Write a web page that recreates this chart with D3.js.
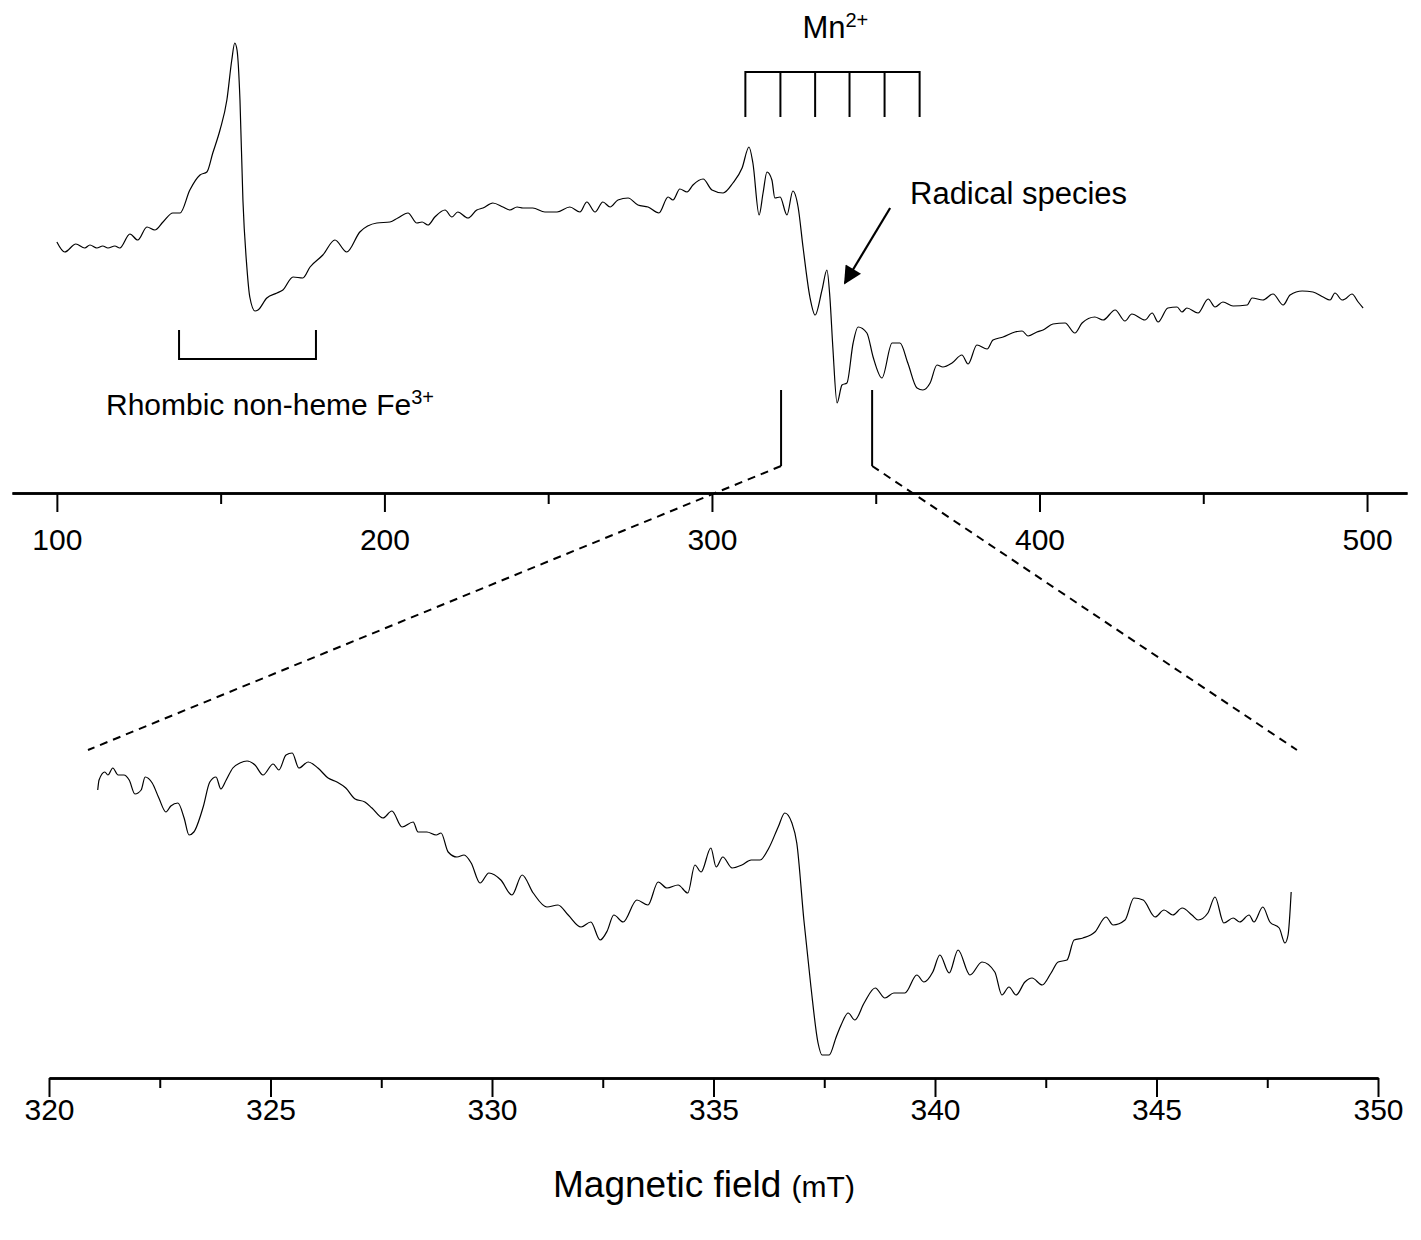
<!DOCTYPE html>
<html>
<head>
<meta charset="utf-8">
<script src="https://cdn.jsdelivr.net/npm/d3@7"></script>
<style>
    body { margin: 0; background: #fff; }
    svg { display: block; font-family: "Liberation Sans", Arial, sans-serif; }
</style>
</head>
<body>
<div id="chart"></div>
<script>
// Overview EPR spectrum (field in mT, signal in arbitrary units)
const overviewField = [100.0,102.4,105.8,108.5,110.1,112.2,114.0,115.6,117.7,119.2,
    122.3,124.7,127.5,129.9,132.4,135.4,137.6,140.6,143.7,145.8,
    147.6,149.8,151.9,153.4,154.3,155.0,155.9,156.8,158.0,158.9,
    160.5,161.4,164.1,167.2,169.0,172.1,175.1,177.3,181.2,184.9,
    188.5,192.5,197.7,201.7,204.1,207.2,209.9,211.5,213.3,215.4,
    218.5,220.6,222.4,225.5,228.2,230.1,233.1,236.2,238.3,240.5,
    242.3,245.3,249.0,252.7,256.6,259.7,261.8,264.3,266.7,268.9,
    271.3,274.4,277.4,280.5,283.8,286.6,288.1,290.2,292.4,294.2,
    297.3,300.0,303.4,306.4,309.2,311.3,312.5,314.4,315.6,316.8,
    318.3,319.2,320.8,322.9,324.7,326.3,327.8,329.9,331.5,333.6,
    335.1,336.0,336.9,338.2,339.7,341.2,343.1,344.6,347.3,349.2,
    351.9,355.0,357.4,359.8,362.6,364.4,366.6,368.7,370.5,373.3,
    376.3,378.2,380.9,384.0,385.8,388.9,392.5,394.7,396.5,399.2,
    401.1,404.1,407.8,410.8,413.0,416.9,419.4,423.1,426.1,428.2,
    432.2,434.4,436.2,439.2,442.0,443.5,445.0,448.4,451.5,453.6,
    456.0,459.1,463.4,464.9,468.2,471.3,474.4,476.5,480.2,483.5,
    486.6,488.7,490.2,492.4,493.3,495.4,497.3,498.8];
const overviewSignal = [1,-9,-1,-5,-2,-5,-3,-5,-3,-5,
    9,3,16,13,21,30,30,53,68,71,
    90,113,143,183,200,193,143,43,-24,-54,
    -68,-67,-55,-50,-47,-34,-35,-24,-12,3,
    -9,11,20,21,25,30,20,21,18,26,
    33,26,31,25,33,35,40,36,33,36,
    35,35,31,31,36,31,41,31,41,36,
    43,45,38,36,30,46,43,54,51,58,
    64,53,50,60,75,96,80,28,50,71,
    63,45,46,28,52,36,-4,-54,-72,-47,
    -27,-54,-104,-160,-142,-140,-100,-84,-90,-114,
    -135,-100,-100,-120,-145,-147,-140,-122,-124,-120,
    -112,-121,-102,-106,-97,-94,-89,-88,-93,-89,
    -87,-81,-80,-90,-80,-74,-77,-67,-78,-71,
    -77,-70,-79,-65,-64,-69,-65,-70,-56,-64,
    -59,-63,-62,-55,-57,-51,-62,-52,-48,-49,
    -54,-57,-50,-57,-56,-51,-59,-65];

// Expanded radical region
const zoomField = [321.10,321.13,321.26,321.33,321.44,321.56,321.69,321.81,321.94,322.08,
    322.17,322.33,322.48,322.64,322.75,322.91,323.05,323.16,323.27,323.48,
    323.63,323.77,323.88,324.00,324.15,324.31,324.47,324.65,324.83,325.06,
    325.19,325.35,325.49,325.64,325.85,326.07,326.30,326.50,326.70,326.91,
    327.13,327.29,327.54,327.74,327.97,328.22,328.33,328.53,328.74,328.85,
    329.01,329.21,329.37,329.53,329.73,329.93,330.20,330.45,330.68,330.93,
    331.24,331.49,331.72,332.01,332.23,332.44,332.60,332.75,332.96,333.27,
    333.52,333.75,333.95,334.20,334.42,334.58,334.72,334.94,335.06,335.21,
    335.42,335.64,335.85,336.05,336.25,336.46,336.61,336.77,336.88,337.04,
    337.20,337.36,337.45,337.61,337.77,337.88,338.04,338.19,338.40,338.65,
    338.87,339.07,339.32,339.59,339.75,339.95,340.11,340.32,340.52,340.79,
    341.06,341.35,341.51,341.67,341.83,342.03,342.19,342.42,342.62,342.78,
    342.98,343.14,343.34,343.61,343.86,344.02,344.29,344.49,344.70,344.97,
    345.17,345.37,345.58,345.80,345.94,346.16,346.32,346.52,346.73,346.88,
    347.09,347.20,347.40,347.56,347.77,347.90,347.97,348.04];
const zoomSignal = [110,120,128,125,132,125,125,120,106,110,
    123,117,102,88,94,97,82,65,68,93,
    118,123,111,120,132,137,139,135,125,136,
    130,145,147,132,138,132,122,118,112,101,
    98,92,82,89,73,78,68,68,65,67,
    48,43,45,37,17,27,20,5,25,7,
    -7,-5,-15,-27,-22,-40,-31,-15,-22,0,
    -5,18,12,15,7,35,28,52,33,43,
    32,35,40,40,52,73,87,77,57,-20,
    -87,-143,-155,-155,-137,-125,-113,-120,-103,-88,
    -98,-93,-93,-75,-82,-72,-55,-73,-50,-75,
    -62,-72,-95,-87,-95,-82,-78,-85,-73,-62,
    -60,-40,-38,-32,-17,-25,-20,2,0,-17,
    -10,-15,-8,-15,-20,-13,3,-23,-18,-22,
    -15,-22,-7,-22,-28,-43,-35,8];

const overviewTicks = [100, 200, 300, 400, 500];
const overviewMinorTicks = [150, 250, 350, 450];
const zoomTicks = [320, 325, 330, 335, 340, 345, 350];
const zoomMinorTicks = [322.5, 327.5, 332.5, 337.5, 342.5, 347.5];

// annotation positions (mT)
const mnLines = [310.2, 320.9, 331.5, 342.0, 352.7, 363.4];
const feBracket = [137.3, 179.1];
const radicalWindow = [321.1, 348.9];
const zoomWindowEnds = [320.88, 348.17];

const W = 1421, H = 1240;

const svg = d3.select("#chart")
    .append("svg")
    .attr("width", W)
    .attr("height", H);

// scales
const xTop = d3.scaleLinear().domain([86.3, 512.2]).range([12, 1407]);
const yTop = d3.scaleLinear().domain([-200, 200]).range([443, 43]);
const xBot = d3.scaleLinear().domain([320, 350]).range([49, 1378]);
const yBot = d3.scaleLinear().domain([-200, 200]).range([1100, 700]);

const topAxisY = 493;
const botAxisY = 1078;

function styleAxis(g) {
    g.select(".domain").attr("stroke", "#000").attr("stroke-width", 2.4);
    g.selectAll(".tick line").attr("stroke", "#000").attr("stroke-width", 2);
    g.selectAll(".tick text")
        .attr("fill", "#000")
        .style("font-size", "30px")
        .style("font-family", "'Liberation Sans', Arial, sans-serif");
}

// top axis
svg.append("g")
    .attr("transform", `translate(0,${topAxisY})`)
    .call(d3.axisBottom(xTop).tickValues(overviewMinorTicks).tickSize(11).tickSizeOuter(0).tickFormat(""))
    .call(styleAxis);
svg.append("g")
    .attr("transform", `translate(0,${topAxisY})`)
    .call(d3.axisBottom(xTop).tickValues(overviewTicks).tickSize(19).tickPadding(17).tickSizeOuter(0))
    .call(styleAxis);

// bottom axis
svg.append("g")
    .attr("transform", `translate(0,${botAxisY})`)
    .call(d3.axisBottom(xBot).tickValues(zoomMinorTicks).tickSize(10).tickSizeOuter(0).tickFormat(""))
    .call(styleAxis);
svg.append("g")
    .attr("transform", `translate(0,${botAxisY})`)
    .call(d3.axisBottom(xBot).tickValues(zoomTicks).tickSize(19).tickPadding(2).tickSizeOuter(0))
    .call(styleAxis);

// traces
const topData = d3.zip(overviewField, overviewSignal);
const botData = d3.zip(zoomField, zoomSignal);

svg.append("path")
    .datum(topData)
    .attr("fill", "none")
    .attr("stroke", "#000")
    .attr("stroke-width", 1.2)
    .attr("d", d3.line().x(d => xTop(d[0])).y(d => yTop(d[1])).curve(d3.curveMonotoneX));

svg.append("path")
    .datum(botData)
    .attr("fill", "none")
    .attr("stroke", "#000")
    .attr("stroke-width", 1.2)
    .attr("d", d3.line().x(d => xBot(d[0])).y(d => yBot(d[1])).curve(d3.curveMonotoneX));

// Mn2+ sextet bracket
const mnTop = 171, mnBottom = 126;
svg.append("line")
    .attr("x1", xTop(mnLines[0])).attr("x2", xTop(mnLines[mnLines.length - 1]))
    .attr("y1", yTop(mnTop)).attr("y2", yTop(mnTop))
    .attr("stroke", "#000").attr("stroke-width", 2);
svg.selectAll(".mn")
    .data(mnLines)
    .enter()
    .append("line")
    .attr("x1", d => xTop(d)).attr("x2", d => xTop(d))
    .attr("y1", yTop(mnTop) - 1).attr("y2", yTop(mnBottom))
    .attr("stroke", "#000").attr("stroke-width", 2);

const mnLabel = svg.append("text")
    .attr("x", xTop(d3.mean(mnLines)) - 30)
    .attr("y", 38)
    .style("font-size", "31px");
mnLabel.append("tspan").text("Mn");
mnLabel.append("tspan").attr("dy", -11).style("font-size", "20px").text("2+");

// Fe3+ bracket
const feTop = -87, feBottom = -116;
svg.append("path")
    .attr("d", `M${xTop(feBracket[0])},${yTop(feTop)}V${yTop(feBottom)}H${xTop(feBracket[1])}V${yTop(feTop)}`)
    .attr("fill", "none").attr("stroke", "#000").attr("stroke-width", 2);

const feLabel = svg.append("text")
    .attr("x", 106)
    .attr("y", 415)
    .style("font-size", "30px");
feLabel.append("tspan").text("Rhombic non-heme Fe");
feLabel.append("tspan").attr("dy", -11).style("font-size", "20px").text("3+");

// Radical species label and arrow
svg.append("text")
    .attr("x", 910)
    .attr("y", 204)
    .style("font-size", "31px")
    .text("Radical species");

svg.append("defs").append("marker")
    .attr("id", "arrowhead")
    .attr("viewBox", "0 0 10 10")
    .attr("refX", 9).attr("refY", 5)
    .attr("markerWidth", 22).attr("markerHeight", 18)
    .attr("markerUnits", "userSpaceOnUse")
    .attr("orient", "auto")
    .append("path")
    .attr("d", "M0,0L10,5L0,10Z")
    .attr("fill", "#000");

svg.append("line")
    .attr("x1", xTop(354.4)).attr("y1", yTop(35))
    .attr("x2", xTop(340.6)).attr("y2", yTop(-40))
    .attr("stroke", "#000").attr("stroke-width", 2.2)
    .attr("marker-end", "url(#arrowhead)");

// radical window markers and zoom guide lines
const winTop = -147, winBottom = -223, guideEnd = 150;
svg.selectAll(".win")
    .data(radicalWindow)
    .enter()
    .append("line")
    .attr("x1", d => xTop(d)).attr("x2", d => xTop(d))
    .attr("y1", yTop(winTop)).attr("y2", yTop(winBottom))
    .attr("stroke", "#000").attr("stroke-width", 2);

svg.selectAll(".guide")
    .data(d3.zip(radicalWindow, zoomWindowEnds))
    .enter()
    .append("line")
    .attr("x1", d => xTop(d[0])).attr("y1", yTop(winBottom))
    .attr("x2", d => xBot(d[1])).attr("y2", yBot(guideEnd))
    .attr("stroke", "#000").attr("stroke-width", 2)
    .attr("stroke-dasharray", "8,6");

// x axis title
const title = svg.append("text")
    .attr("x", 553)
    .attr("y", 1197)
    .style("font-size", "37px");
title.append("tspan").text("Magnetic field ");
title.append("tspan").style("font-size", "30px").text("(mT)");
</script>
</body>
</html>
